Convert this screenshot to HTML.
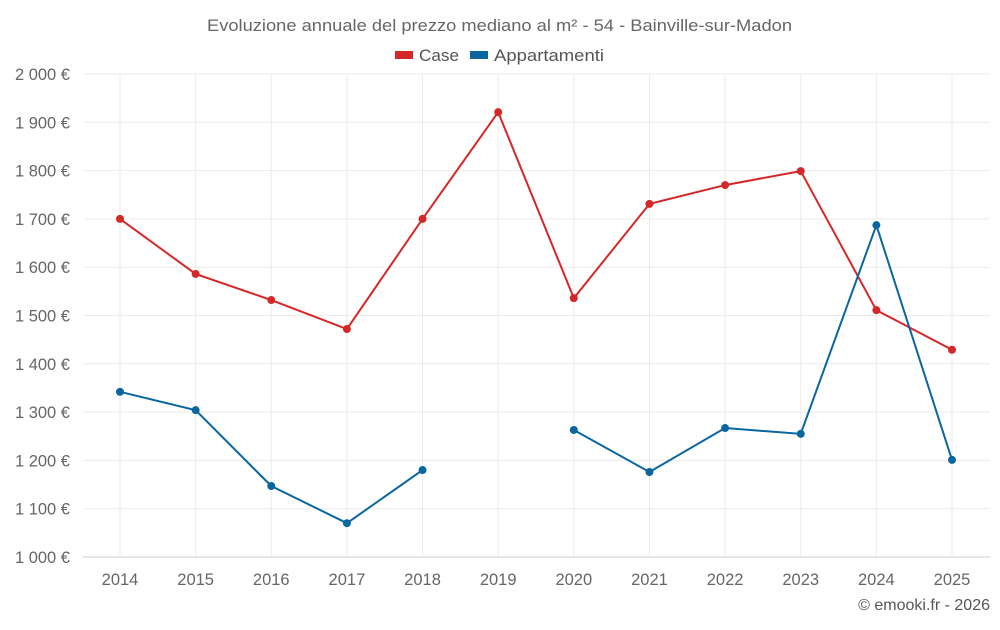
<!DOCTYPE html>
<html><head><meta charset="utf-8"><style>
body{margin:0;background:#fff;font-family:"Liberation Sans",sans-serif;}
svg text{font-family:"Liberation Sans",sans-serif;}
</style></head><body>
<svg id="c" width="1000" height="625">
<text x="207" y="31" textLength="585" lengthAdjust="spacingAndGlyphs" font-size="16.5" fill="#666">Evoluzione annuale del prezzo mediano al m² - 54 - Bainville-sur-Madon</text>
<g><rect x="395" y="51" width="18" height="8" fill="#d62728"/><text x="419" y="61" font-size="16.5" textLength="40" lengthAdjust="spacingAndGlyphs" fill="#555">Case</text></g>
<g><rect x="470" y="51" width="18" height="8" fill="#0a66a0"/><text x="494" y="61" font-size="16.5" textLength="110" lengthAdjust="spacingAndGlyphs" fill="#555">Appartamenti</text></g>
<g id="grid"></g><g id="axes"></g><g id="series"></g>
<text x="990" y="610" text-anchor="end" font-size="16" fill="#555">© emooki.fr - 2026</text>
</svg>
<script>
const years=[2014,2015,2016,2017,2018,2019,2020,2021,2022,2023,2024,2025];
const caseVals=[1700,1586,1532,1472,1700,1921,1536,1731,1770,1799,1511,1429];
const appVals=[1342,1304,1147,1070,1180,null,1263,1176,1267,1255,1687,1201];
const yTicks=[1000,1100,1200,1300,1400,1500,1600,1700,1800,1900,2000];
const yTickLabels=["1 000 €","1 100 €","1 200 €","1 300 €","1 400 €","1 500 €","1 600 €","1 700 €","1 800 €","1 900 €","2 000 €"];
const NS="http://www.w3.org/2000/svg";
const x=i=>120+i*(952-120)/11;
const y=v=>557-(v-1000)*0.483;
function mk(t,a,p){const e=document.createElementNS(NS,t);for(const k in a)e.setAttribute(k,a[k]);p.appendChild(e);return e;}
const G=document.getElementById('grid'),A=document.getElementById('axes'),S=document.getElementById('series');
yTicks.forEach((v,i)=>{
 const l=mk('line',{x1:83,x2:990,y1:y(v),y2:y(v),stroke:i==0?'#ccc':'#ebebeb'},G);
 
 
 const t=mk('text',{x:70,y:y(v)+6,'text-anchor':'end','font-size':16.5,fill:'#666'},A);
 t.textContent=yTickLabels[i];
 
 
});
years.forEach((yr,i)=>{
 const l=mk('line',{x1:x(i),x2:x(i),y1:74,y2:557,stroke:'#ebebeb'},G);
 
 
 const t=mk('text',{x:x(i),y:585,'text-anchor':'middle','font-size':16.5,fill:'#666'},A);
 t.textContent=yr;
 
 
});
function series(vals,color,name){
 let d='',pen=false;
 vals.forEach((v,i)=>{if(v==null){pen=false;return;}d+=(pen?'L':'M')+x(i)+' '+y(v)+' ';pen=true;});
 const p=mk('path',{d:d,fill:'none',stroke:color,'stroke-width':2},S);
 
 
 vals.forEach((v,i)=>{if(v==null)return;
  const c=mk('circle',{cx:x(i),cy:y(v),r:4,fill:color},S);
  
  
 });
}
series(caseVals,'#d62728','case');
series(appVals,'#0a66a0','appartamenti');
</script>
</body></html>
